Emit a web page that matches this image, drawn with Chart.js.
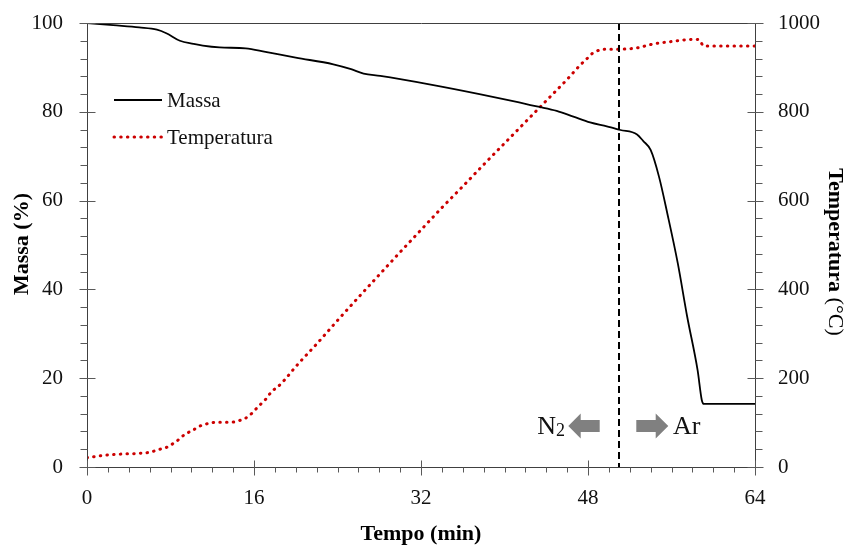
<!DOCTYPE html>
<html><head><meta charset="utf-8">
<script src="https://cdn.jsdelivr.net/npm/chart.js@4.4.0/dist/chart.umd.min.js"></script>
<style>html,body{margin:0;padding:0;background:#fff}canvas{display:block}</style>
</head><body>
<canvas id="c" width="852" height="548"></canvas>
<script>
// ---- data ----
const massTime   = [0, 2.5, 5, 6.7, 7.6, 8.9, 10.2, 11.1, 12.7, 15.2, 17.1, 20, 23.6, 25.3, 26.5, 28.1, 32.8, 37.6, 41.4, 43.1, 45, 46.6, 48.2, 49.8, 51.1, 52.7, 53.3, 54, 54.8, 55.6, 56.6, 57.5, 58.5, 58.9, 59.1, 64];
const massValues = [100, 99.5, 99.0, 98.5, 97.7, 96.0, 95.3, 94.9, 94.5, 94.3, 93.5, 92.2, 90.7, 89.6, 88.6, 88.1, 86.2, 84.0, 82.1, 81.2, 80.2, 78.9, 77.6, 76.7, 75.9, 74.9, 73.4, 71.4, 65.4, 57.1, 45.9, 33.9, 21.8, 15.1, 14.2, 14.2];
const tempTime   = [0, 0.6, 1.2, 1.9, 2.5, 3.2, 3.8, 4.4, 5.1, 5.7, 6.3, 7.0, 7.6, 8.2, 8.8, 9.4, 10.1, 10.7, 11.3, 12.0, 12.6, 13.3, 13.9, 14.5, 15.2, 15.8, 16.4, 17.1, 17.7, 18.3, 19.0, 19.6, 20.3, 22, 24, 26, 28, 30, 32, 34, 36, 38, 40, 42, 44, 46, 47.2, 48, 48.5, 49.8, 51.1, 52.7, 54.3, 55.9, 57.3, 58.6, 59.1, 64];
const tempValues = [21, 23, 25, 27, 28, 29, 30, 30, 31, 32, 35, 40, 44, 52, 62, 74, 82, 91, 96, 100, 101, 101, 101, 104, 110, 121, 136, 152, 170, 181, 198, 215, 234, 277, 330, 382, 433, 484, 534, 584, 632, 681, 729, 777, 825, 873, 904, 922, 933, 941, 941, 944, 953, 958, 962, 963, 948, 948];
const xTicks    = [0, 16, 32, 48, 64];
const massTicks = [0, 20, 40, 60, 80, 100];
const tempTicks = [0, 200, 400, 600, 800, 1000];
const seriesNames = ['Massa', 'Temperatura'];
const gasSwitchTime = 51;
const gasLabels = ['N', '2', 'Ar'];
const axisTitles = {x: 'Tempo (min)', y: 'Massa (%)', y2a: 'Temperatura', y2b: ' (°C)'};

// ---- layout / style ----
const W = 852, H = 548;
const AREA = {left: 87, right: 755, top: 23, bottom: 467};
const SERIF = "'Liberation Serif', 'Times New Roman', serif";
const AXIS_COLOR = '#404040';
const TICK_COLOR = '#595959';
const RED = '#cc0000';
const DOT_DASH = [0.5, 6.2];

const massPts = massTime.map((t, i) => ({x: t, y: massValues[i]}));
const tempPts = tempTime.map((t, i) => ({x: t, y: tempValues[i]}));

const frameAndTicks = {
  id: 'frameAndTicks',
  afterDatasetsDraw(chart) {
    const ctx = chart.ctx, a = chart.chartArea;
    const sx = chart.scales.x, sy = chart.scales.y, s2 = chart.scales.y2;
    ctx.save();
    // dashed switch line
    const xs = Math.round(sx.getPixelForValue(gasSwitchTime));
    ctx.strokeStyle = '#000'; ctx.lineWidth = 2; ctx.setLineDash([7, 4]);
    ctx.beginPath(); ctx.moveTo(xs, a.top); ctx.lineTo(xs, a.bottom); ctx.stroke();
    ctx.setLineDash([]);
    // frame
    ctx.strokeStyle = AXIS_COLOR; ctx.lineWidth = 1;
    const L = Math.round(a.left) + 0.5, R = Math.round(a.right) + 0.5, T = Math.round(a.top) + 0.5, B = Math.round(a.bottom) + 0.5;
    ctx.beginPath();
    ctx.moveTo(L, T); ctx.lineTo(R, T); ctx.lineTo(R, B); ctx.lineTo(L, B); ctx.closePath();
    ctx.stroke();
    // ticks
    ctx.strokeStyle = TICK_COLOR;
    ctx.beginPath();
    for (let v = 0; v <= 64; v += 2) {
      const px = Math.round(sx.getPixelForValue(v)) + 0.5;
      if (v % 16 === 0) { ctx.moveTo(px, B - 7); ctx.lineTo(px, B + 8); }
      else { ctx.moveTo(px, B); ctx.lineTo(px, B + 5); }
    }
    for (let v = 0; v <= 100; v += 4) {
      const py = Math.round(sy.getPixelForValue(v)) + 0.5;
      if (v % 20 === 0) { ctx.moveTo(L - 8, py); ctx.lineTo(L + 8, py); }
      else { ctx.moveTo(L - 7, py); ctx.lineTo(L, py); }
    }
    for (let v = 0; v <= 1000; v += 40) {
      const py = Math.round(s2.getPixelForValue(v)) + 0.5;
      if (v % 200 === 0) { ctx.moveTo(R - 8, py); ctx.lineTo(R + 8, py); }
      else { ctx.moveTo(R, py); ctx.lineTo(R + 7, py); }
    }
    ctx.stroke();

    // gas arrows
    const ay = Math.round(sy.getPixelForValue(9.2));
    ctx.fillStyle = '#808080';
    const arrow = (tail, base, tip) => {
      ctx.beginPath();
      ctx.moveTo(tail, ay - 6); ctx.lineTo(base, ay - 6); ctx.lineTo(base, ay - 12.5);
      ctx.lineTo(tip, ay); ctx.lineTo(base, ay + 12.5); ctx.lineTo(base, ay + 6);
      ctx.lineTo(tail, ay + 6); ctx.closePath(); ctx.fill();
    };
    arrow(xs - 19.3, xs - 38.3, xs - 50.7);
    arrow(xs + 17.3, xs + 36.7, xs + 49.3);
    ctx.fillStyle = '#111';
    ctx.textBaseline = 'alphabetic';
    ctx.textAlign = 'right';
    ctx.font = '18px ' + SERIF;
    const subRight = xs - 54;
    ctx.fillText(gasLabels[1], subRight, ay + 9.5);
    const w2 = ctx.measureText(gasLabels[1]).width;
    ctx.font = '26px ' + SERIF;
    ctx.fillText(gasLabels[0], subRight - w2, ay + 7.5);
    ctx.textAlign = 'left';
    ctx.fillText(gasLabels[2], xs + 54, ay + 7.5);

    // legend
    const ds = chart.data.datasets;
    const items = [{y: 100, tb: 107}, {y: 137, tb: 143.5}];
    items.forEach((it, i) => {
      const d = ds[i];
      ctx.strokeStyle = d.borderColor; ctx.lineWidth = d.borderWidth;
      ctx.lineCap = d.borderCapStyle || 'butt';
      ctx.setLineDash(d.borderDash || []);
      ctx.beginPath(); ctx.moveTo(114, it.y); ctx.lineTo(162, it.y); ctx.stroke();
      ctx.setLineDash([]); ctx.lineCap = 'butt';
      ctx.fillStyle = '#111'; ctx.font = '21px ' + SERIF; ctx.textAlign = 'left';
      ctx.fillText(d.label, 167, it.tb);
    });

    // axis titles
    ctx.fillStyle = '#000';
    ctx.textBaseline = 'middle';
    ctx.font = 'bold 22px ' + SERIF;
    ctx.textAlign = 'center';
    ctx.fillText(axisTitles.x, (a.left + a.right) / 2, 534);
    ctx.save();
    ctx.translate(22, 244); ctx.rotate(-Math.PI / 2);
    ctx.fillText(axisTitles.y, 0, 0);
    ctx.restore();
    ctx.save();
    ctx.translate(835, 252); ctx.rotate(Math.PI / 2);
    ctx.font = 'bold 22px ' + SERIF;
    const wa = ctx.measureText(axisTitles.y2a).width;
    ctx.font = '22px ' + SERIF;
    const wb = ctx.measureText(axisTitles.y2b).width;
    const start = -(wa + wb) / 2;
    ctx.textAlign = 'left';
    ctx.font = 'bold 22px ' + SERIF;
    ctx.fillText(axisTitles.y2a, start, 0);
    ctx.font = '22px ' + SERIF;
    ctx.fillText(axisTitles.y2b, start + wa, 0);
    ctx.restore();
    ctx.restore();
  }
};

const tickFont = {family: SERIF, size: 21};
const plain = v => String(v);
const noPad = s => { s.paddingTop = 0; s.paddingBottom = 0; s.paddingLeft = 0; s.paddingRight = 0; };
new Chart(document.getElementById('c'), {
  type: 'line',
  data: {
    datasets: [
      {label: seriesNames[0], data: massPts, yAxisID: 'y', borderColor: '#000', borderWidth: 1.8,
       pointRadius: 0, cubicInterpolationMode: 'monotone', tension: 0.4, borderCapStyle: 'butt'},
      {label: seriesNames[1], data: tempPts, yAxisID: 'y2', borderColor: RED, borderWidth: 3,
       borderDash: DOT_DASH, borderCapStyle: 'round', pointRadius: 0, cubicInterpolationMode: 'monotone', tension: 0.4}
    ]
  },
  options: {
    responsive: false, animation: false, devicePixelRatio: 1,
    layout: {padding: {top: AREA.top, left: 0, right: 0, bottom: 0}},
    plugins: {legend: {display: false}, tooltip: {enabled: false}},
    scales: {
      x: {type: 'linear', min: 0, max: 64,
          afterBuildTicks: s => { s.ticks = xTicks.map(v => ({value: v})); },
          afterFit: s => { s.height = H - AREA.bottom; noPad(s); },
          grid: {display: false, drawTicks: false, tickLength: 0}, border: {display: false},
          ticks: {font: tickFont, color: '#111', padding: 19, maxRotation: 0, autoSkip: false, callback: plain}},
      y: {type: 'linear', position: 'left', min: 0, max: 100,
          afterBuildTicks: s => { s.ticks = massTicks.map(v => ({value: v})); },
          afterFit: s => { s.width = AREA.left; noPad(s); },
          grid: {display: false, drawTicks: false, tickLength: 0}, border: {display: false},
          ticks: {font: tickFont, color: '#111', padding: 24, callback: plain}},
      y2: {type: 'linear', position: 'right', min: 0, max: 1000,
          afterBuildTicks: s => { s.ticks = tempTicks.map(v => ({value: v})); },
          afterFit: s => { s.width = W - AREA.right; noPad(s); },
          grid: {display: false, drawTicks: false, tickLength: 0}, border: {display: false},
          ticks: {font: tickFont, color: '#111', padding: 23, callback: plain}}
    }
  },
  plugins: [frameAndTicks]
});
</script>
</body></html>
